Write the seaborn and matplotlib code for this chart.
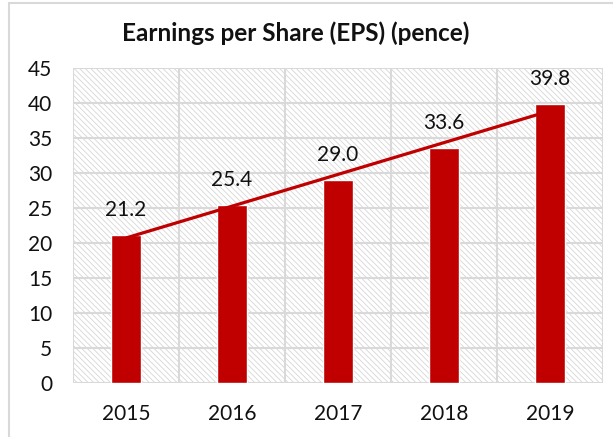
import numpy as np
import pandas as pd
import matplotlib.pyplot as plt
from matplotlib.patches import Rectangle
import seaborn as sns

# data
years = ["2015", "2016", "2017", "2018", "2019"]
eps = [21.2, 25.4, 29.0, 33.6, 39.8]
labels = ["21.2", "25.4", "29.0", "33.6", "39.8"]

df = pd.DataFrame({"Year": years, "EPS": eps})

sns.set_style("white")
plt.rcParams["font.family"] = ["Lato", "DejaVu Sans"]
plt.rcParams["hatch.linewidth"] = 0.6

red = "#C00000"
grid = "#d9d9d9"

fig = plt.figure(figsize=(6.13, 4.37), dpi=100)
ax = fig.add_axes([73 / 613, 1 - 383 / 437, 530 / 613, 315 / 437])

# outer chart frame
fig.patches.append(Rectangle((9 / 613, -0.1), 1.1, 1 - 3 / 437 + 0.1,
                             transform=fig.transFigure, fill=False,
                             edgecolor=grid, linewidth=1.5))

# hatched plot area background
ax.set_facecolor("white")
ax.add_patch(Rectangle((0, 0), 1, 1, transform=ax.transAxes, facecolor="white",
                       edgecolor="#d6d6d6", hatch="\\" * 6, linewidth=0, zorder=0))

sns.barplot(data=df, x="Year", y="EPS", color=red, width=0.28, saturation=1,
            ax=ax, zorder=3)

# linear trendline
xs = np.arange(len(eps))
k, b = np.polyfit(xs, eps, 1)
ax.plot(xs, k * xs + b, color=red, linewidth=2.3, zorder=4, solid_capstyle="butt")

for i, (v, t) in enumerate(zip(eps, labels)):
    ax.annotate(t, (i, v), xytext=(0, 18), textcoords="offset points",
                ha="center", va="center", fontsize=15, color="#111111", zorder=5)

ax.set_xlim(-0.5, len(eps) - 0.5)
ax.set_ylim(0, 45)
ax.set_yticks(range(0, 50, 5))
ax.set_xlabel("")
ax.set_ylabel("")

# gridlines: horizontal at ticks, vertical between categories
for y in range(0, 50, 5):
    ax.axhline(y, color=grid, linewidth=1.5, zorder=1)
for x in np.arange(-0.5, len(eps), 1.0):
    ax.axvline(x, color=grid, linewidth=1.5, zorder=1)

for s in ax.spines.values():
    s.set_visible(False)

ax.tick_params(axis="both", length=0, labelsize=15, colors="#111111")
ax.tick_params(axis="y", pad=15)
ax.tick_params(axis="x", pad=15)

fig.text(296 / 613, 1 - 33 / 437, "Earnings per Share (EPS) (pence)",
         ha="center", va="center", fontsize=17.5, fontweight="bold", color="#111111")

fig.savefig("out.png", dpi=100)
